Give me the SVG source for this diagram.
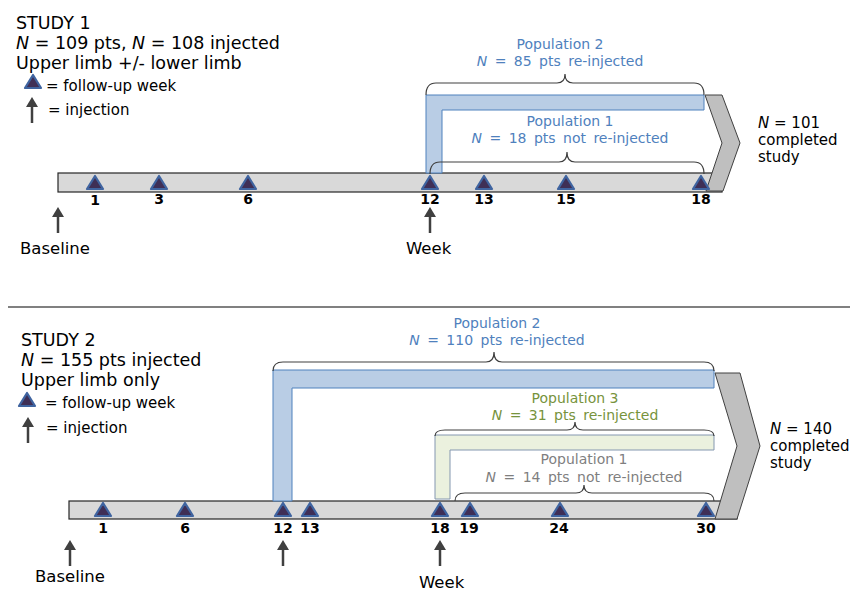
<svg xmlns="http://www.w3.org/2000/svg" xmlns:xlink="http://www.w3.org/1999/xlink" width="850" height="592" viewBox="0 0 850 592">
<style>
text{font-family:"DejaVu Sans","Verdana",sans-serif;}
.title{font-size:17.5px;fill:#000;}
.leg{font-size:15px;fill:#000;}
.big{font-size:16.5px;fill:#000;}
.num{font-size:14px;font-weight:bold;fill:#000;text-anchor:middle;}
.pop{font-size:14px;text-anchor:middle;}
.nl{word-spacing:3px;}
.blue{fill:#4f81bd;}
.green{fill:#77933c;}
.grey{fill:#7f7f7f;}
.side{font-size:15px;fill:#000;}
.bar{fill:#d9d9d9;stroke:#262626;stroke-width:1.2;}
.chev{fill:#bfbfbf;stroke:#404040;stroke-width:1;}
.lblue{fill:#b9cde5;stroke:#4f81bd;stroke-width:1;}
.lgreen{fill:#ebf1de;stroke:#8497b0;stroke-width:1;}
.brace{fill:none;stroke:#404040;stroke-width:1.2;}
.tri{fill:#3f2f56;stroke:#3f64a0;stroke-width:2.2;stroke-linejoin:round;}
.arr{stroke:#404040;stroke-width:2.5;fill:none;}
.arrh{fill:#404040;stroke:none;}
</style>
<defs>
<g id="arrow"><line class="arr" x1="0" y1="5" x2="0" y2="26"/><polygon class="arrh" points="-6,10 0,0 6,10"/></g>
<polygon id="tri" class="tri" points="-8,0 8,0 0,-13"/>
</defs>

<line x1="8" y1="307" x2="850" y2="307" stroke="#808080" stroke-width="2"/>

<g id="study1">
<g id="s1-header">
<text class="title" x="16" y="29">STUDY 1</text>
<text class="title" x="16" y="49"><tspan font-style="italic">N</tspan> = 109 pts, <tspan font-style="italic">N</tspan> = 108 injected</text>
<text class="title" x="16" y="69">Upper limb +/- lower limb</text>
<use href="#tri" x="33" y="88"/>
<text class="leg" x="46" y="91">= follow-up week</text>
<use href="#arrow" x="32" y="97"/>
<text class="leg" x="48" y="115">= injection</text>
</g>
<g id="s1-timeline">
<rect class="bar" x="58" y="173" width="664" height="19"/>
<polygon class="chev" points="705,95 722,95 740,143 723,191 706,191 722,143"/>
<polygon class="lblue" points="426,95 704,95 704,110 442,110 442,173 426,173"/>
<use href="#tri" x="95" y="189"/>
<use href="#tri" x="159" y="189"/>
<use href="#tri" x="248" y="189"/>
<use href="#tri" x="430" y="189"/>
<use href="#tri" x="484" y="189"/>
<use href="#tri" x="566" y="189"/>
<use href="#tri" x="701" y="189"/>
<text class="num" x="95" y="205">1</text>
<text class="num" x="159" y="204">3</text>
<text class="num" x="248" y="204">6</text>
<text class="num" x="430" y="204">12</text>
<text class="num" x="484" y="204">13</text>
<text class="num" x="566" y="204">15</text>
<text class="num" x="701" y="204">18</text>
</g>
<g id="s1-pop2">
<text class="pop blue" x="560" y="49">Population 2</text>
<text class="pop blue nl" x="560" y="66"><tspan font-style="italic">N</tspan> = 85 pts re-injected</text>
</g>
<g id="s1-pop1">
<text class="pop blue" x="570" y="126">Population 1</text>
<text class="pop blue nl" x="570" y="143"><tspan font-style="italic">N</tspan> = 18 pts not re-injected</text>
</g>
<g id="s1-end">
<text class="side" x="758" y="128"><tspan font-style="italic">N</tspan> = 101</text>
<text class="side" x="758" y="145">completed</text>
<text class="side" x="758" y="162">study</text>
</g>
<g id="s1-baseline">
<text class="big" x="20" y="254">Baseline</text>
</g>
<g id="s1-week">
<text class="big" x="406" y="254">Week</text>
</g>
</g>

<g id="study2">
<g id="s2-header">
<text class="title" x="21" y="346">STUDY 2</text>
<text class="title" x="21" y="366"><tspan font-style="italic">N</tspan> = 155 pts injected</text>
<text class="title" x="21" y="386">Upper limb only</text>
<use href="#tri" x="27" y="406"/>
<text class="leg" x="45" y="408">= follow-up week</text>
<use href="#arrow" x="28" y="417"/>
<text class="leg" x="46" y="433">= injection</text>
</g>
<g id="s2-timeline">
<rect class="bar" x="69" y="501" width="668" height="18"/>
<polygon class="chev" points="715,373 740,373 760,446 737,519 715,519 737,446"/>
<polygon class="lblue" points="273,370 714,370 714,388 292,388 292,501 273,501"/>
<polygon class="lgreen" points="435,435 714,435 714,450 450,450 450,499 435,499"/>
<use href="#tri" x="103" y="516"/>
<use href="#tri" x="185" y="516"/>
<use href="#tri" x="283" y="516"/>
<use href="#tri" x="310" y="516"/>
<use href="#tri" x="440" y="516"/>
<use href="#tri" x="470" y="516"/>
<use href="#tri" x="560" y="516"/>
<use href="#tri" x="706" y="516"/>
<text class="num" x="103" y="533">1</text>
<text class="num" x="185" y="533">6</text>
<text class="num" x="283" y="533">12</text>
<text class="num" x="310" y="533">13</text>
<text class="num" x="440" y="533">18</text>
<text class="num" x="469" y="533">19</text>
<text class="num" x="559" y="533">24</text>
<text class="num" x="706" y="533">30</text>
</g>
<g id="s2-pop2">
<text class="pop blue" x="497" y="328">Population 2</text>
<text class="pop blue nl" x="497" y="345"><tspan font-style="italic">N</tspan> = 110 pts re-injected</text>
</g>
<g id="s2-pop3">
<text class="pop green" x="575" y="403">Population 3</text>
<text class="pop green nl" x="575" y="420"><tspan font-style="italic">N</tspan> = 31 pts re-injected</text>
</g>
<g id="s2-pop1">
<text class="pop grey" x="584" y="464">Population 1</text>
<text class="pop grey nl" x="584" y="482"><tspan font-style="italic">N</tspan> = 14 pts not re-injected</text>
</g>
<g id="s2-end">
<text class="side" x="770" y="434"><tspan font-style="italic">N</tspan> = 140</text>
<text class="side" x="770" y="451">completed</text>
<text class="side" x="770" y="468">study</text>
</g>
<g id="s2-baseline">
<text class="big" x="35" y="582">Baseline</text>
</g>
<g id="s2-week">
<text class="big" x="419" y="588">Week</text>
</g>
</g>

<g id="connectors">
<path class="brace" d="M426,95 Q426,83 436,83 H557 Q565,83 565,74 Q565,83 573,83 H694 Q704,83 704,95"/>
<path class="brace" d="M430,174 Q430,162 440,162 H559 Q567,162 567,152 Q567,162 575,162 H694 Q704,162 704,174"/>
<path class="brace" d="M273,371 Q273,362 283,362 H486 Q494,362 494,352 Q494,362 502,362 H704 Q714,362 714,371"/>
<path class="brace" d="M435,436 Q435,430 445,430 H567 Q575,430 575,422 Q575,430 583,430 H704 Q714,430 714,436"/>
<path class="brace" d="M455,501 Q455,493 465,493 H576 Q584,493 584,485 Q584,493 592,493 H704 Q714,493 714,501"/>
<use href="#arrow" x="58" y="207"/>
<use href="#arrow" x="430" y="207"/>
<use href="#arrow" x="70" y="540"/>
<use href="#arrow" x="283" y="540"/>
<use href="#arrow" x="440" y="540"/>
</g>
</svg>
